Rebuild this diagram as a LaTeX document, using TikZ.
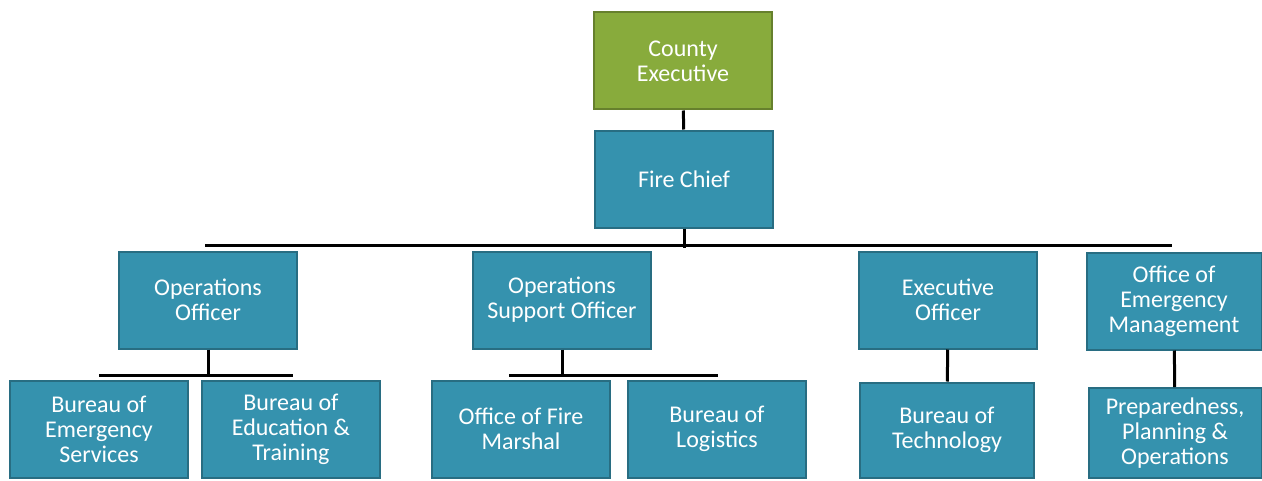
\documentclass[tikz,border=0pt]{standalone}
\usepackage{fontspec}
\setmainfont{Carlito}
\usepackage{xcolor}
\usepackage{tikz}
\usetikzlibrary{positioning,calc}

\definecolor{chartteal}{HTML}{3592AE}
\definecolor{chartgreen}{HTML}{88AB3C}

\begin{document}
\begin{tikzpicture}[x=0.5pt,y=-0.5pt,
    unit/.style={rectangle, fill=chartteal, draw=chartteal!75!black, line width=1pt,
        text=white, align=center, inner sep=0pt, minimum width=89pt, minimum height=48.5pt,
        font=\fontsize{12}{12.5}\selectfont},
    head/.style={unit, fill=chartgreen, draw=chartgreen!75!black},
    link/.style={line width=1.5pt, black}]
    \useasboundingbox (0,0) rectangle (1262,481);

    % top of the chart
    \node[head] (exec) at (683,61) {County\\Executive};
    \node[unit] (chief) at (684,179) {Fire Chief};

    % officers
    \node[unit] (ops) at (208,300) {Operations\\Officer};
    \node[unit] (opsup) at (562,300) {Operations\\Support Officer};
    \node[unit] (xo) at (948,300) {Executive\\Officer};
    \node[unit, minimum width=87.5pt] (oem) at (1174,301) {Office of\\Emergency\\Management};

    % bureaus
    \node[unit] (emsvc) at (99,429) {Bureau of\\Emergency\\Services};
    \node[unit] (edtrain) at (291,429) {Bureau of\\Education \&\\Training};
    \node[unit] (marshal) at (521,429) {Office of Fire\\Marshal};
    \node[unit] (logist) at (717,429) {Bureau of\\Logistics};
    \node[unit, minimum width=87pt, minimum height=47.5pt] (tech) at (947,430) {Bureau of\\Technology};
    \node[unit, minimum width=86.5pt, minimum height=45pt] (prep) at (1175,433) {Preparedness,\\Planning \&\\Operations};

    % connectors
    \draw[link] (exec) -- (chief);
    \draw[link] (chief.south) -- ++(0,19);
    \draw[link] ($(ops.north)+(-3,-5)$) -- ($(oem.north |- ops.north)+(-2,-5)$);
    \draw[link] (ops) -- ++(0,76);
    \draw[link] ($(emsvc.north)+(0,-4)$) -- ($(edtrain.north)+(2,-4)$);
    \draw[link] (opsup) -- ++(0,76);
    \draw[link] ($(marshal.north)+(-12,-4)$) -- ($(logist.north)+(1,-4)$);
    \draw[link] (xo) -- (tech);
    \draw[link] (oem) -- (prep);
\end{tikzpicture}
\end{document}
